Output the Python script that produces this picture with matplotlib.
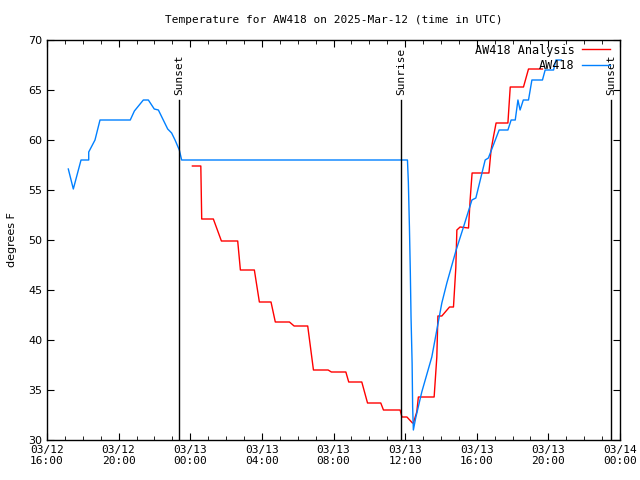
import pandas as pd
import matplotlib
matplotlib.use('Agg')
import matplotlib.pyplot as plt
import matplotlib.dates as mdates

# time origin for the hour offsets below
t0 = pd.Timestamp('2025-03-12 16:00')

# observed temperature (hours after t0, degrees F)
obs_hours = [1.19, 1.47, 1.90, 2.33, 2.33, 2.68, 2.96, 4.65, 4.88, 5.38, 5.66, 5.99, 6.22,
             6.74, 6.96, 7.15, 7.39, 7.52, 20.13, 20.18, 20.24, 20.29, 20.33, 20.39, 20.42,
             20.46, 20.59, 20.93, 21.49, 22.05, 22.33, 22.85, 23.26, 23.73, 23.95, 24.47,
             24.65, 25.25, 25.74, 25.92, 26.15, 26.30, 26.42, 26.60, 26.89, 27.08, 27.67,
             27.82, 28.29, 28.42, 28.72]
obs_temp = [57.1, 55.1, 58.0, 58.0, 58.8, 60.0, 62.0, 62.0, 62.9, 64.0, 64.0, 63.1, 63.0,
            61.1, 60.7, 60.0, 59.0, 58.0, 58.0, 55.8, 51.3, 46.8, 42.3, 37.7, 33.3,
            31.0, 32.2, 34.8, 38.3, 43.7, 45.7, 49.0, 51.3, 54.0, 54.2, 58.0,
            58.2, 61.0, 61.0, 62.0, 62.0, 64.0, 63.0, 64.0, 64.0, 66.0, 66.0,
            67.0, 67.0, 68.0, 68.0]

# analysis temperature
ana_hours = [8.12, 8.59, 8.64, 9.29, 9.74, 10.65, 10.80, 11.58, 11.86, 12.51, 12.75, 13.54,
             13.80, 14.56, 14.88, 15.70, 15.88, 16.69, 16.85, 17.58, 17.90, 18.64, 18.79,
             19.72, 19.82, 20.10, 20.41, 20.46, 20.65, 20.74, 21.62, 21.77, 21.83, 22.05,
             22.48, 22.70, 22.74, 22.83, 22.89, 23.07, 23.54, 23.63, 23.74, 24.68, 24.80,
             24.93, 25.08, 25.74, 25.87, 26.61, 26.89, 27.67]
ana_temp = [57.4, 57.4, 52.1, 52.1, 49.9, 49.9, 47.0, 47.0, 43.8, 43.8, 41.8, 41.8,
            41.4, 41.4, 37.0, 37.0, 36.8, 36.8, 35.8, 35.8, 33.7, 33.7, 33.0,
            33.0, 32.3, 32.3, 31.7, 31.7, 32.8, 34.3, 34.3, 38.3, 42.4, 42.4,
            43.3, 43.3, 44.5, 47.2, 51.0, 51.3, 51.2, 54.0, 56.7, 56.7, 59.0,
            60.3, 61.7, 61.7, 65.3, 65.3, 67.1, 67.1]

# sun events
sun_labels = ['Sunset', 'Sunrise', 'Sunset']
sun_hours = [7.37, 19.78, 31.5]

obs_t = [t0 + pd.Timedelta(hours=h) for h in obs_hours]
ana_t = [t0 + pd.Timedelta(hours=h) for h in ana_hours]
sun_t = [t0 + pd.Timedelta(hours=h) for h in sun_hours]

mono = 'DejaVu Sans Mono'

fig = plt.figure(figsize=(6.4, 4.8), dpi=100)
ax = fig.add_axes([47/640, 40/480, 573/640, 400/480])

ax.plot(ana_t, ana_temp, color='#ff0000', lw=1, label='AW418 Analysis')
ax.plot(obs_t, obs_temp, color='#0080ff', lw=1, label='AW418')

for lab, t in zip(sun_labels, sun_t):
    ax.plot([t, t], [30, 64], color='black', lw=1)
    ax.text(t, 64.5, lab, rotation=90, ha='center', va='bottom', fontsize=8, family=mono)

ax.set_xlim(t0, t0 + pd.Timedelta(hours=32))
ax.set_ylim(30, 70)
ax.set_yticks(range(30, 71, 5))
ax.xaxis.set_major_locator(mdates.HourLocator(byhour=[0, 4, 8, 12, 16, 20]))
ax.xaxis.set_minor_locator(mdates.HourLocator())
ax.xaxis.set_major_formatter(mdates.DateFormatter('%m/%d\n%H:%M'))

ax.tick_params(which='both', direction='in', top=True, right=True, labelsize=8)
ax.tick_params(which='major', length=5)
ax.tick_params(which='minor', length=3)
for lbl in ax.get_xticklabels():
    lbl.set_family(mono)
for s in ax.spines.values():
    s.set_linewidth(1)

ax.set_ylabel('degrees F', fontsize=8, labelpad=8)
ax.set_title('Temperature for AW418 on 2025-Mar-12 (time in UTC)', fontsize=8, family=mono, pad=12)

ax.legend(loc='upper right', frameon=False, markerfirst=False, prop={'family': mono, 'size': 8.5},
          handlelength=2.4, handletextpad=0.6, borderaxespad=0.0, labelspacing=0.2,
          bbox_to_anchor=(0.991, 1.003))

fig.savefig('out.png', dpi=100)
